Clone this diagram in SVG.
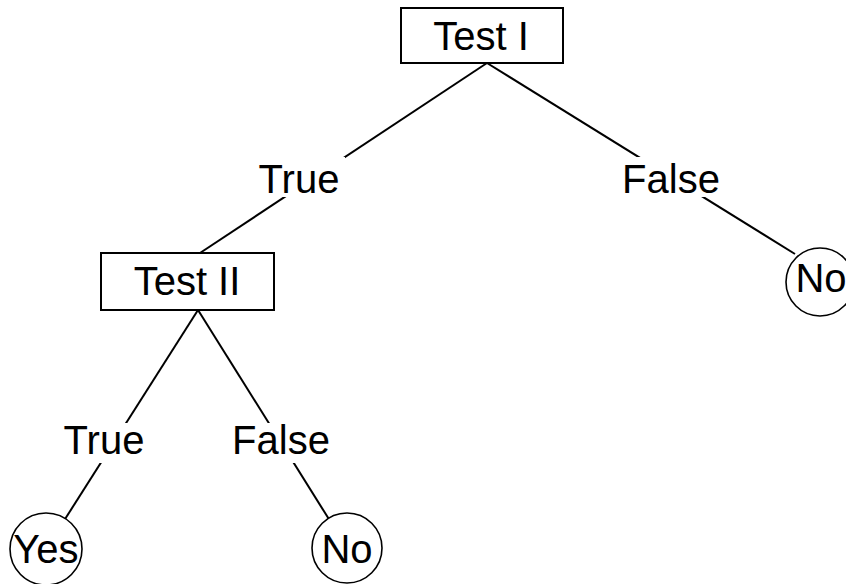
<svg xmlns="http://www.w3.org/2000/svg" width="846" height="584" viewBox="0 0 846 584">
  <style>
    .edge { stroke: #000; stroke-width: 2; fill: none; }
    .box { fill: #fff; stroke: #000; stroke-width: 2; }
    .leaf { fill: #fff; stroke: #000; stroke-width: 1.6; }
    .pad { fill: #fff; stroke: none; }
    text { font-family: "Liberation Sans", Arial, sans-serif; font-size: 40px; fill: #000; text-anchor: middle; }
  </style>
  <rect width="846" height="584" fill="#fff"/>

  <!-- branches -->
  <g id="connectors">
    <line class="edge" x1="487" y1="63" x2="200" y2="253"/>
    <line class="edge" x1="487" y1="63" x2="795" y2="254"/>
    <line class="edge" x1="198" y1="310" x2="46" y2="549"/>
    <line class="edge" x1="198" y1="310" x2="347" y2="548"/>
  </g>

  <!-- branch labels on white pads -->
  <g id="label-true-1">
    <rect class="pad" x="255" y="157" width="90" height="40"/>
    <text x="299" y="193">True</text>
  </g>
  <g id="label-false-1">
    <rect class="pad" x="617" y="157" width="107" height="40"/>
    <text x="671" y="193">False</text>
  </g>
  <g id="label-true-2">
    <rect class="pad" x="60" y="423" width="90" height="40"/>
    <text x="104" y="454">True</text>
  </g>
  <g id="label-false-2">
    <rect class="pad" x="229" y="423" width="104" height="40"/>
    <text x="281" y="454">False</text>
  </g>

  <!-- test nodes -->
  <g id="test-1">
    <rect class="box" x="401" y="8" width="162" height="55"/>
    <text x="481" y="50">Test I</text>
  </g>
  <g id="test-2">
    <rect class="box" x="101" y="253" width="173" height="57"/>
    <text x="187" y="295">Test II</text>
  </g>

  <!-- outcome leaves -->
  <g id="leaf-no-right">
    <circle class="leaf" cx="820" cy="282" r="34"/>
    <text x="821" y="292">No</text>
  </g>
  <g id="leaf-yes">
    <circle class="leaf" cx="46" cy="549" r="36"/>
    <text x="46" y="563">Yes</text>
  </g>
  <g id="leaf-no-bottom">
    <circle class="leaf" cx="347" cy="548" r="35"/>
    <text x="347" y="563">No</text>
  </g>
</svg>
